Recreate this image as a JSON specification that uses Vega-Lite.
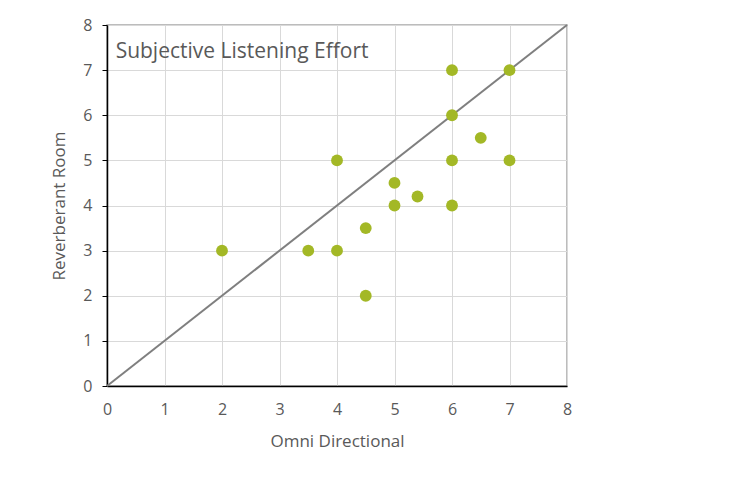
{
  "$schema": "https://vega.github.io/schema/vega-lite/v6.json",
  "width": 460,
  "height": 361,
  "autosize": {"type": "none"},
  "padding": {"left": 107, "top": 25, "right": 164, "bottom": 101},
  "background": "white",
  "config": {
    "view": {"stroke": "#a6a6a6", "strokeWidth": 1.5},
    "font": "Open Sans",
    "axis": {
      "labelFont": "Open Sans",
      "titleFont": "Open Sans",
      "labelColor": "#595959",
      "titleColor": "#595959",
      "labelFontSize": 16,
      "titleFontSize": 17,
      "titleFontWeight": "normal",
      "gridColor": "#d9d9d9",
      "gridWidth": 1,
      "domainColor": "#000000",
      "domainWidth": 1.5,
      "labelOverlap": false,
      "labelFlush": false,
      "format": "d"
    }
  },
  "datasets": {
    "points": [
      {"omni": 2, "rev": 3},
      {"omni": 3.5, "rev": 3},
      {"omni": 4, "rev": 3},
      {"omni": 4, "rev": 5},
      {"omni": 4.5, "rev": 3.5},
      {"omni": 4.5, "rev": 2},
      {"omni": 5, "rev": 4.5},
      {"omni": 5, "rev": 4},
      {"omni": 5.4, "rev": 4.2},
      {"omni": 6, "rev": 7},
      {"omni": 6, "rev": 6},
      {"omni": 6, "rev": 5},
      {"omni": 6, "rev": 4},
      {"omni": 6.5, "rev": 5.5},
      {"omni": 7, "rev": 7},
      {"omni": 7, "rev": 5}
    ],
    "diag": [
      {"omni": 0, "rev": 0},
      {"omni": 8, "rev": 8}
    ],
    "label": [
      {"omni": 0.15, "rev": 7.4, "text": "Subjective Listening Effort"}
    ]
  },
  "layer": [
    {
      "data": {"name": "diag"},
      "mark": {"type": "line", "color": "#7f7f7f", "strokeWidth": 2},
      "encoding": {
        "x": {
          "field": "omni", "type": "quantitative",
          "scale": {"domain": [0, 8], "nice": false},
          "axis": {"title": "Omni Directional", "values": [0,1,2,3,4,5,6,7,8], "format": "d", "ticks": false, "labelPadding": 15, "titlePadding": 16}
        },
        "y": {
          "field": "rev", "type": "quantitative",
          "scale": {"domain": [0, 8], "nice": false},
          "axis": {"title": "Reverberant Room", "values": [0,1,2,3,4,5,6,7,8], "format": "d", "tickColor": "#000000", "tickSize": 5, "labelPadding": 10, "titlePadding": 14}
        }
      }
    },
    {
      "data": {"name": "points"},
      "mark": {"type": "circle", "size": 140, "color": "#a3b826", "opacity": 1},
      "encoding": {
        "x": {"field": "omni", "type": "quantitative"},
        "y": {"field": "rev", "type": "quantitative"}
      }
    },
    {
      "data": {"name": "label"},
      "mark": {"type": "text", "align": "left", "baseline": "middle", "fontSize": 21, "color": "#595959", "font": "Open Sans"},
      "encoding": {
        "x": {"field": "omni", "type": "quantitative"},
        "y": {"field": "rev", "type": "quantitative"},
        "text": {"field": "text"}
      }
    }
  ]
}
